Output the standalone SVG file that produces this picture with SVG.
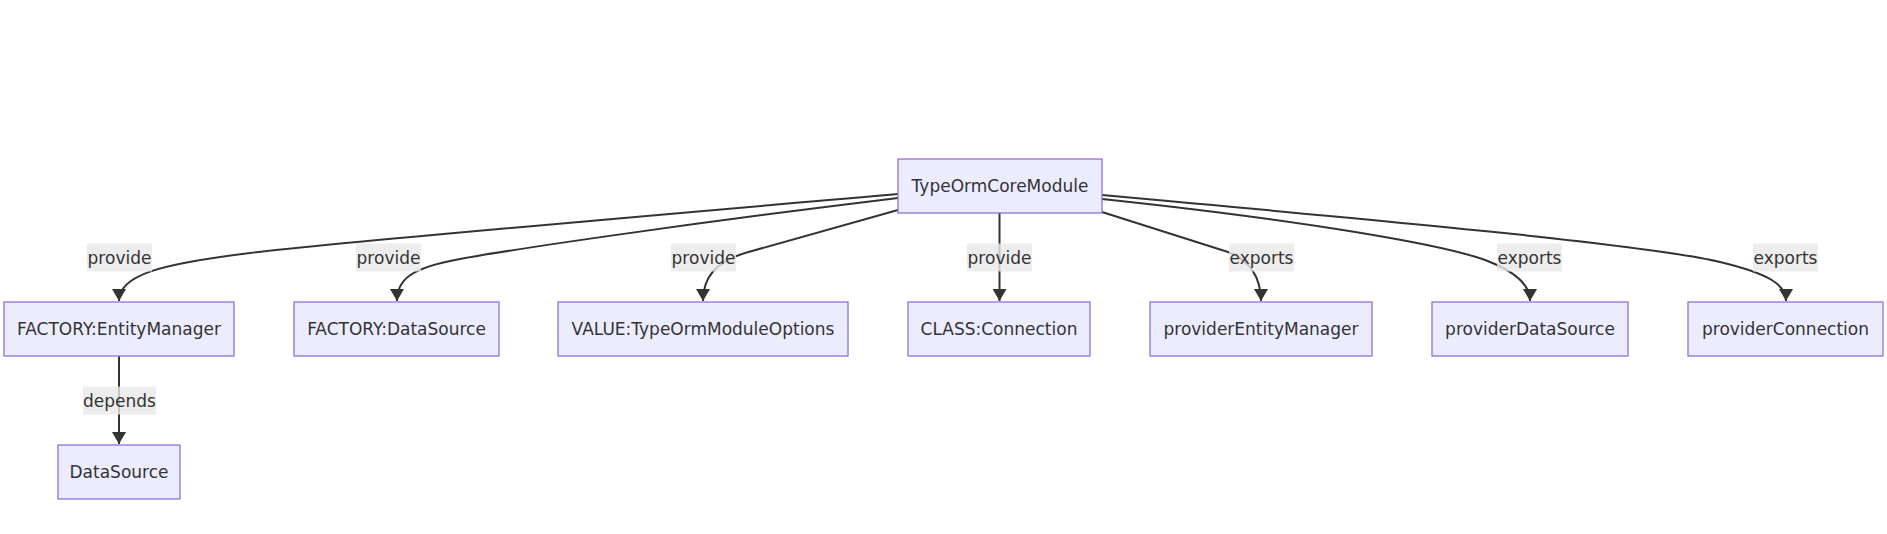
<svg xmlns="http://www.w3.org/2000/svg" width="1887" height="534" viewBox="0 0 1887 534">
<style>
.node rect{fill:#ECECFF;stroke:#9370DB;stroke-width:1.3px;}
text{font-family:"DejaVu Sans",Verdana,sans-serif;font-size:17px;fill:#333;text-anchor:middle;dominant-baseline:central;}
.edge{fill:none;stroke:#333;stroke-width:2px;}
.lbl rect{fill:#e8e8e8;fill-opacity:0.8;stroke:none;}
</style>
<defs>
<marker id="arrow" viewBox="0 0 12 14" refX="12" refY="7" markerWidth="12" markerHeight="14" markerUnits="userSpaceOnUse" orient="auto">
<path d="M0,0 L12,7 L0,14 z" fill="#333"/>
</marker>
</defs>
<rect width="1887" height="534" fill="#fff"/>
<g id="connectors">
<path class="edge" marker-end="url(#arrow)" d="M898,194 C600,220 330,243 250,253 C160,264 119,275 119,301"/>
<path class="edge" marker-end="url(#arrow)" d="M898,198 C700,222 520,248 460,259 C410,268 397,280 397,301"/>
<path class="edge" marker-end="url(#arrow)" d="M898,210 L745,253 C715,262 703,278 703,301"/>
<path class="edge" marker-end="url(#arrow)" d="M999.5,213 L999.5,301"/>
<path class="edge" marker-end="url(#arrow)" d="M1102,212 L1228,252 C1250,260 1261,278 1261,301"/>
<path class="edge" marker-end="url(#arrow)" d="M1102,199 C1300,220 1450,245 1490,262 C1515,272 1530,285 1530,301"/>
<path class="edge" marker-end="url(#arrow)" d="M1102,195 C1400,222 1650,245 1720,262 C1770,274 1786,285 1786,301"/>
<path class="edge" marker-end="url(#arrow)" d="M119,356 L119,444"/>
</g>
<g id="edge-labels">
<g class="lbl"><rect x="87" y="243.5" width="65" height="28"/><text x="119.5" y="257.5">provide</text></g>
<g class="lbl"><rect x="356" y="243.5" width="65" height="28"/><text x="388.5" y="257.5">provide</text></g>
<g class="lbl"><rect x="671" y="243.5" width="65" height="28"/><text x="703.5" y="257.5">provide</text></g>
<g class="lbl"><rect x="967" y="243.5" width="65" height="28"/><text x="999.5" y="257.5">provide</text></g>
<g class="lbl"><rect x="1229" y="243.5" width="65" height="28"/><text x="1261.5" y="257.5">exports</text></g>
<g class="lbl"><rect x="1497" y="243.5" width="65" height="28"/><text x="1529.5" y="257.5">exports</text></g>
<g class="lbl"><rect x="1753" y="243.5" width="65" height="28"/><text x="1785.5" y="257.5">exports</text></g>
<g class="lbl"><rect x="83" y="386.5" width="73" height="28"/><text x="119.5" y="400.5">depends</text></g>
</g>
<g id="TypeOrmCoreModule" class="node"><rect x="898" y="159" width="204" height="54"/><text x="1000" y="186">TypeOrmCoreModule</text></g>
<g id="FactoryEntityManager" class="node"><rect x="4" y="302" width="230" height="54"/><text x="119" y="329">FACTORY:EntityManager</text></g>
<g id="FactoryDataSource" class="node"><rect x="294" y="302" width="205" height="54"/><text x="396.5" y="329">FACTORY:DataSource</text></g>
<g id="ValueOptions" class="node"><rect x="558" y="302" width="290" height="54"/><text x="703" y="329">VALUE:TypeOrmModuleOptions</text></g>
<g id="ClassConnection" class="node"><rect x="908" y="302" width="182" height="54"/><text x="999" y="329">CLASS:Connection</text></g>
<g id="providerEntityManager" class="node"><rect x="1150" y="302" width="222" height="54"/><text x="1261" y="329">providerEntityManager</text></g>
<g id="providerDataSource" class="node"><rect x="1432" y="302" width="196" height="54"/><text x="1530" y="329">providerDataSource</text></g>
<g id="providerConnection" class="node"><rect x="1688" y="302" width="195" height="54"/><text x="1785.5" y="329">providerConnection</text></g>
<g id="DataSource" class="node"><rect x="58" y="445" width="122" height="54"/><text x="119" y="472">DataSource</text></g>
</svg>
